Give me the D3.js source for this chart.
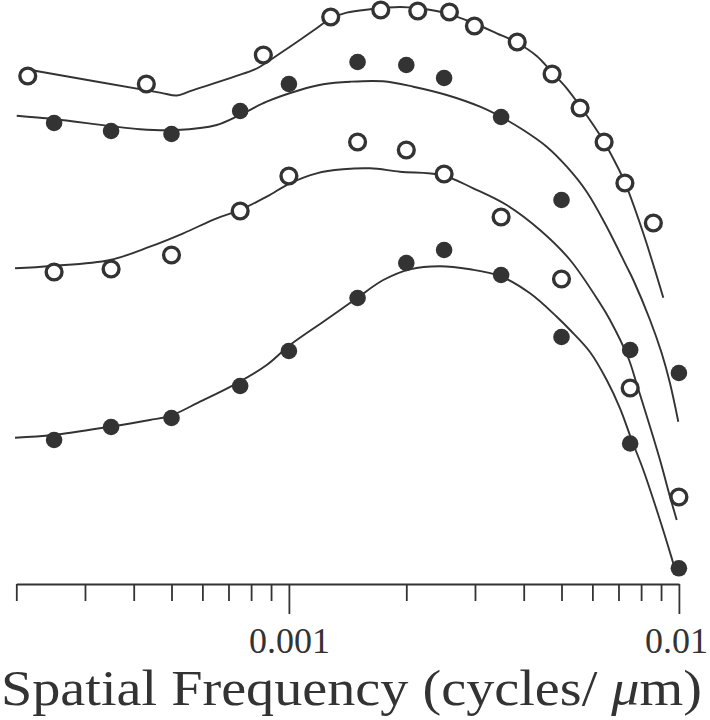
<!DOCTYPE html>
<html>
<head>
<meta charset="utf-8">
<script src="https://cdn.jsdelivr.net/npm/d3@7"></script>
<style>
  html, body { margin: 0; padding: 0; background: #fff; }
  svg { display: block; }
</style>
</head>
<body>
<svg id="chart" width="710" height="720"></svg>
<script>
// ---------------- DATA ----------------
// Spatial frequency (cycles/µm) for the three lower data sets
const commonFreq = [0.00025, 0.00035, 0.0005, 0.00075, 0.001, 0.0015, 0.002, 0.0025, 0.0035, 0.005, 0.0075, 0.01];

// Top data set (open circles) – its own frequencies
const markerFreqA = [0.000214, 0.000431, 0.00086, 0.00128, 0.00172, 0.00214, 0.00258, 0.00299, 0.00385, 0.00473, 0.00558, 0.00643, 0.00727, 0.0086];
const markerValA  = [5.08, 5.00, 5.29, 5.67, 5.74, 5.73, 5.72, 5.58, 5.42, 5.10, 4.76, 4.42, 4.01, 3.61];

// Second data set (filled circles)
const markerValB = [4.61, 4.53, 4.50, 4.73, 5.00, 5.22, 5.19, 5.06, 4.67, 3.84, 2.34, 2.11];
// Third data set (open circles)
const markerValC = [3.12, 3.15, 3.29, 3.73, 4.08, 4.42, 4.34, 4.10, 3.67, 3.05, 1.96, 0.87];
// Fourth data set (filled circles)
const markerValD = [1.44, 1.57, 1.66, 1.98, 2.33, 2.86, 3.21, 3.34, 3.09, 2.47, 1.405, 0.157];

// Fitted curves
const fitFreqA = [0.000214, 0.000467, 0.000516, 0.000558, 0.000803, 0.000843, 0.001006, 0.001178, 0.001274, 0.001406, 0.001614, 0.001927, 0.002169, 0.002539, 0.002971, 0.003411, 0.003837, 0.004319, 0.004719, 0.005157, 0.005577, 0.006033, 0.006427, 0.006859, 0.007274, 0.008103, 0.009121];
const fitValA  = [5.145, 4.914, 4.885, 4.929, 5.133, 5.173, 5.373, 5.557, 5.65, 5.713, 5.747, 5.77, 5.755, 5.707, 5.61, 5.507, 5.415, 5.28, 5.12, 4.957, 4.78, 4.59, 4.423, 4.22, 4.013, 3.507, 2.863];

const fitFreqB = [0.0002005, 0.0002484, 0.0003477, 0.0004151, 0.0005156, 0.0006529, 0.0007492, 0.0008772, 0.0010678, 0.001225, 0.0014346, 0.0017427, 0.0020845, 0.0025386, 0.0030903, 0.003492, 0.0039902, 0.0045814, 0.0051582, 0.0058009, 0.0065301, 0.0073485, 0.0076402, 0.0084327, 0.0090357, 0.0094881, 0.0099654];
const fitValB  = [4.683, 4.65, 4.58, 4.547, 4.54, 4.59, 4.69, 4.823, 4.94, 4.997, 5.023, 5.027, 4.973, 4.89, 4.773, 4.673, 4.54, 4.373, 4.173, 3.923, 3.573, 3.173, 3.04, 2.64, 2.307, 2.007, 1.623];

const fitFreqC = [0.0001985, 0.0002465, 0.0003477, 0.0004402, 0.0005361, 0.0006529, 0.0007419, 0.0008772, 0.0010065, 0.0011783, 0.001376, 0.0016141, 0.0019275, 0.0024646, 0.00297, 0.0036177, 0.0044036, 0.0052602, 0.0062766, 0.0066579, 0.0074181, 0.0077949, 0.0084327, 0.0089449, 0.0094881, 0.0098718];
const fitValC  = [3.157, 3.18, 3.24, 3.373, 3.507, 3.657, 3.733, 3.873, 4.007, 4.107, 4.147, 4.157, 4.123, 4.09, 3.957, 3.79, 3.54, 3.24, 2.807, 2.64, 2.26, 2.0, 1.573, 1.24, 0.873, 0.64];

const fitFreqD = [0.0001985, 0.0002484, 0.0003477, 0.0004402, 0.0004955, 0.0005916, 0.0007349, 0.0008772, 0.0010065, 0.001225, 0.0014921, 0.0017458, 0.0020439, 0.0024397, 0.0029127, 0.0034775, 0.0041514, 0.0048617, 0.0052602, 0.0059156, 0.0065301, 0.0070632, 0.0075683, 0.0081047, 0.0087733, 0.0093926, 0.0098718];
const fitValD  = [1.463, 1.49, 1.573, 1.64, 1.68, 1.823, 2.007, 2.19, 2.39, 2.623, 2.857, 3.04, 3.147, 3.177, 3.147, 3.08, 2.907, 2.673, 2.54, 2.32, 2.04, 1.757, 1.44, 1.14, 0.74, 0.373, 0.09];

// Axis ticks
const majorTicks = [0.001, 0.01];
const majorLabels = ["0.001", "0.01"];
const minorTicks = [0.0002, 0.0003, 0.0004, 0.0005, 0.0006, 0.0007, 0.0008, 0.0009,
                    0.002, 0.003, 0.004, 0.005, 0.006, 0.007, 0.008, 0.009];
const xDomain = [0.0002, 0.01];
const yDomain = [0, 5.84];
const titleMain = "Spatial Frequency (cycles/ ";
const titleUnitItalic = "\u03bc";
const titleUnitEnd = "m)";

// ---------------- DRAWING ----------------
const ink = "#333";
const svg = d3.select("#chart");

const x = d3.scaleLog().domain(xDomain).range([16.3, 678.9]);
const y = d3.scaleLinear().domain(yDomain).range([584, 0]);

const zip = (fs, vs) => fs.map((f, i) => ({ f: f, v: vs[i] }));

const line = d3.line()
  .x(d => x(d.f))
  .y(d => y(d.v))
  .curve(d3.curveCatmullRom.alpha(0.5));

const fits = [
  zip(fitFreqA, fitValA),
  zip(fitFreqB, fitValB),
  zip(fitFreqC, fitValC),
  zip(fitFreqD, fitValD)
];

svg.append("g").selectAll("path")
  .data(fits)
  .join("path")
  .attr("d", line)
  .attr("fill", "none")
  .attr("stroke", ink)
  .attr("stroke-width", 1.9);

const markerSets = [
  { pts: zip(markerFreqA, markerValA), open: true },
  { pts: zip(commonFreq, markerValB), open: false },
  { pts: zip(commonFreq, markerValC), open: true },
  { pts: zip(commonFreq, markerValD), open: false }
];

markerSets.forEach(s => {
  svg.append("g").selectAll("circle")
    .data(s.pts)
    .join("circle")
    .attr("cx", d => x(d.f))
    .attr("cy", d => y(d.v))
    .attr("r", s.open ? 7.9 : 8.3)
    .attr("fill", s.open ? "#fff" : ink)
    .attr("stroke", s.open ? ink : "none")
    .attr("stroke-width", s.open ? 3.4 : 0);
});

// X axis
const allTicks = minorTicks.concat(majorTicks).sort((a, b) => a - b);
const axis = d3.axisBottom(x)
  .tickValues(allTicks)
  .tickSize(17)
  .tickSizeOuter(0)
  .tickFormat(d => {
    const i = majorTicks.indexOf(d);
    return i >= 0 ? majorLabels[i] : "";
  });

const gx = svg.append("g")
  .attr("transform", `translate(0,${y(0)})`)
  .call(axis);

gx.select(".domain").attr("stroke", ink).attr("stroke-width", 2);
gx.selectAll(".tick line").attr("stroke", ink).attr("stroke-width", 1.8);
gx.selectAll(".tick")
  .filter(d => majorTicks.includes(d))
  .select("line").attr("y2", 30);
gx.selectAll(".tick text")
  .attr("y", 69)
  .attr("dy", 0)
  .attr("fill", ink)
  .style("font-family", "'Liberation Serif', 'Times New Roman', serif")
  .style("font-size", "36px");
// keep the last label inside the frame
gx.selectAll(".tick")
  .filter(d => d === majorTicks[majorTicks.length - 1])
  .select("text")
  .attr("dx", -3);

// Title
const title = svg.append("text")
  .attr("x", 1)
  .attr("y", 705)
  .attr("fill", ink)
  .attr("textLength", 701)
  .attr("lengthAdjust", "spacingAndGlyphs")
  .style("font-family", "'Liberation Serif', 'Times New Roman', serif")
  .style("font-size", "50px");
title.append("tspan").text(titleMain);
title.append("tspan").style("font-style", "italic").text(titleUnitItalic);
title.append("tspan").text(titleUnitEnd);
</script>
</body>
</html>
